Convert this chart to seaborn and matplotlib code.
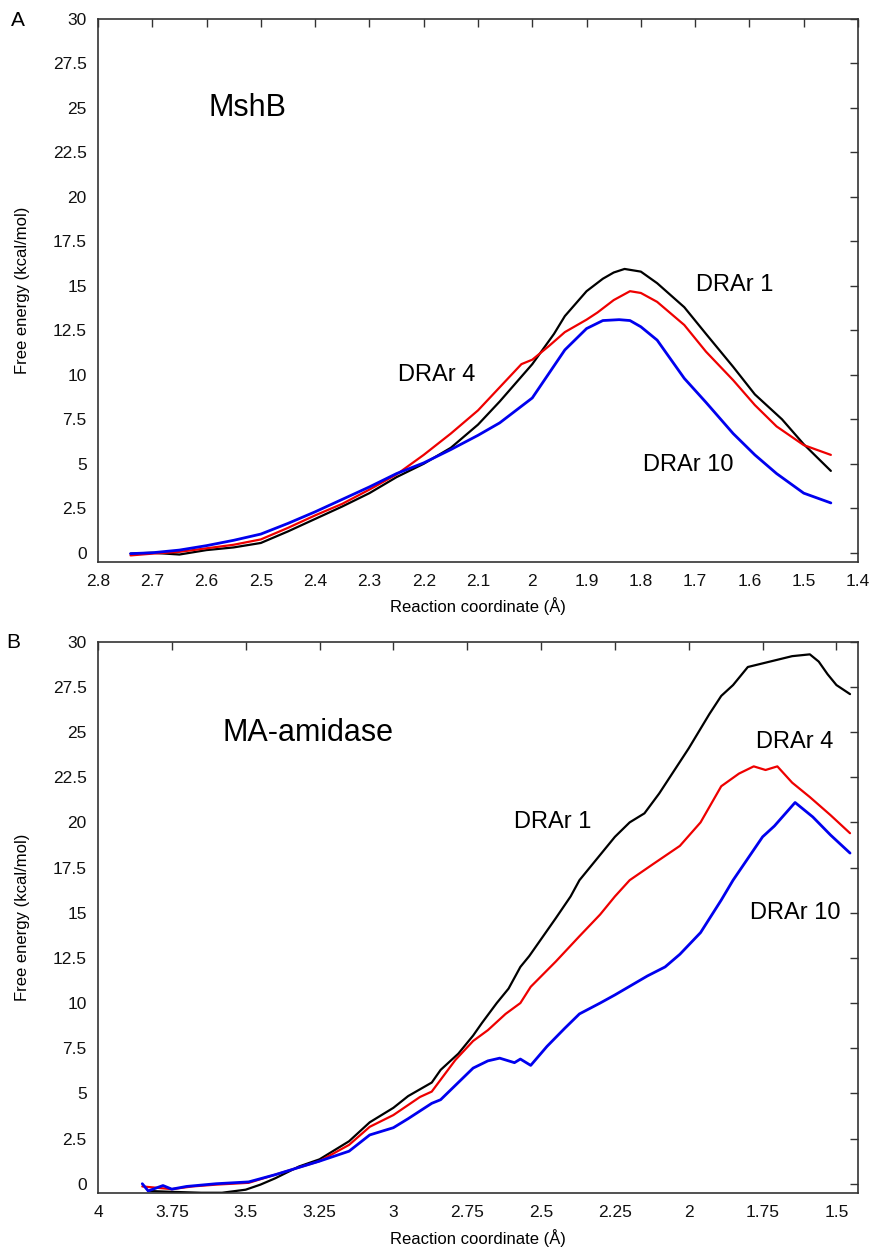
import numpy as np
import pandas as pd
import matplotlib
matplotlib.use("Agg")
import matplotlib.pyplot as plt
from matplotlib.ticker import FormatStrFormatter
import seaborn as sns

# ---- panel A: MshB ----
a_x_drar1 = [2.74, 2.70, 2.65, 2.60, 2.55, 2.50, 2.45, 2.40, 2.35, 2.30, 2.25, 2.20, 2.15,
             2.10, 2.06, 2.00, 1.96, 1.94, 1.90, 1.87, 1.85, 1.83, 1.80, 1.77, 1.72, 1.68,
             1.63, 1.59, 1.54, 1.50, 1.45]
a_y_drar1 = [-0.05, 0.0, -0.1, 0.15, 0.3, 0.55, 1.2, 1.9, 2.6, 3.35, 4.25, 5.0, 5.9,
             7.2, 8.5, 10.6, 12.3, 13.3, 14.7, 15.4, 15.75, 15.95, 15.8, 15.15, 13.8, 12.3,
             10.45, 8.9, 7.5, 6.1, 4.6]

a_x_drar4 = [2.74, 2.70, 2.65, 2.60, 2.55, 2.50, 2.45, 2.40, 2.35, 2.30, 2.25, 2.20, 2.15,
             2.10, 2.06, 2.02, 2.00, 1.97, 1.94, 1.90, 1.88, 1.85, 1.82, 1.80, 1.77, 1.72,
             1.68, 1.63, 1.59, 1.55, 1.50, 1.45]
a_y_drar4 = [-0.15, -0.05, 0.05, 0.25, 0.45, 0.75, 1.4, 2.1, 2.75, 3.55, 4.4, 5.5, 6.7,
             8.0, 9.3, 10.6, 10.85, 11.6, 12.4, 13.1, 13.5, 14.2, 14.7, 14.6, 14.1, 12.8,
             11.3, 9.7, 8.3, 7.1, 6.05, 5.5]

a_x_drar10 = [2.74, 2.70, 2.65, 2.60, 2.55, 2.50, 2.45, 2.40, 2.35, 2.30, 2.25, 2.20, 2.15,
              2.10, 2.06, 2.00, 1.94, 1.90, 1.87, 1.84, 1.82, 1.80, 1.77, 1.72, 1.68, 1.63,
              1.59, 1.55, 1.50, 1.45]
a_y_drar10 = [-0.05, 0.0, 0.15, 0.4, 0.7, 1.05, 1.65, 2.3, 3.0, 3.7, 4.45, 5.05, 5.8,
              6.6, 7.3, 8.7, 11.4, 12.6, 13.05, 13.1, 13.05, 12.7, 11.95, 9.8, 8.45, 6.7,
              5.5, 4.45, 3.35, 2.8]

# ---- panel B: MA-amidase ----
b_x_drar1 = [3.83, 3.75, 3.65, 3.58, 3.50, 3.45, 3.40, 3.32, 3.25, 3.15, 3.08, 3.00, 2.95,
             2.87, 2.84, 2.78, 2.73, 2.70, 2.65, 2.61, 2.57, 2.54, 2.45, 2.40, 2.37, 2.25,
             2.20, 2.15, 2.10, 2.00, 1.93, 1.89, 1.85, 1.80, 1.75, 1.70, 1.65, 1.59, 1.56,
             1.53, 1.50, 1.454]
b_y_drar1 = [-0.4, -0.45, -0.5, -0.5, -0.33, -0.05, 0.3, 0.95, 1.35, 2.35, 3.4, 4.2, 4.85,
             5.6, 6.3, 7.2, 8.2, 8.9, 10.0, 10.8, 12.0, 12.6, 14.7, 15.9, 16.8, 19.2,
             20.0, 20.5, 21.6, 24.1, 26.0, 27.0, 27.6, 28.6, 28.8, 29.0, 29.2, 29.3, 28.9,
             28.2, 27.6, 27.1]

b_x_drar4 = [3.85, 3.75, 3.68, 3.60, 3.49, 3.40, 3.32, 3.25, 3.15, 3.08, 3.00, 2.91, 2.87,
             2.79, 2.73, 2.68, 2.62, 2.57, 2.535, 2.45, 2.37, 2.30, 2.25, 2.20, 2.12, 2.03,
             1.96, 1.89, 1.83, 1.78, 1.74, 1.70, 1.65, 1.59, 1.52, 1.454]
b_y_drar4 = [-0.15, -0.3, -0.15, -0.05, 0.05, 0.5, 0.9, 1.25, 2.15, 3.15, 3.8, 4.8, 5.1,
             6.85, 7.9, 8.5, 9.4, 10.0, 10.9, 12.3, 13.7, 14.9, 15.9, 16.8, 17.7, 18.7,
             20.0, 22.0, 22.7, 23.1, 22.9, 23.1, 22.2, 21.4, 20.4, 19.4]

b_x_drar10 = [3.85, 3.83, 3.78, 3.75, 3.70, 3.60, 3.49, 3.40, 3.32, 3.25, 3.15, 3.08, 3.00,
              2.95, 2.87, 2.84, 2.73, 2.68, 2.64, 2.59, 2.57, 2.535, 2.48, 2.42, 2.37, 2.30,
              2.25, 2.14, 2.08, 2.03, 1.96, 1.89, 1.85, 1.80, 1.75, 1.71, 1.64, 1.58, 1.52,
              1.454]
b_y_drar10 = [0.0, -0.4, -0.1, -0.3, -0.15, 0.0, 0.1, 0.5, 0.9, 1.25, 1.8, 2.7, 3.1,
              3.6, 4.45, 4.65, 6.4, 6.8, 6.95, 6.7, 6.9, 6.55, 7.6, 8.6, 9.4, 10.0,
              10.45, 11.5, 12.0, 12.7, 13.9, 15.7, 16.8, 18.0, 19.2, 19.8, 21.1, 20.3, 19.3,
              18.3]

series_names = ["DRAr 1", "DRAr 4", "DRAr 10"]
colors = {"DRAr 1": "#000000", "DRAr 4": "#ee0000", "DRAr 10": "#0000ee"}
widths = {"DRAr 1": 1.6, "DRAr 4": 1.6, "DRAr 10": 2.0}

yticks = np.arange(0, 30.1, 2.5)
a_xticks = [2.8, 2.7, 2.6, 2.5, 2.4, 2.3, 2.2, 2.1, 2.0, 1.9, 1.8, 1.7, 1.6, 1.5, 1.4]
b_xticks = [4.0, 3.75, 3.5, 3.25, 3.0, 2.75, 2.5, 2.25, 2.0, 1.75, 1.5]

sns.set_style("white")
plt.rcParams["font.family"] = ["Liberation Sans", "DejaVu Sans"]
plt.rcParams["text.color"] = "black"
plt.rcParams["axes.labelcolor"] = "black"

fig = plt.figure(figsize=(8.74, 12.47), dpi=100)
axA = fig.add_axes([0.1121, 0.5496, 0.8696, 0.4352])
axB = fig.add_axes([0.1121, 0.0435, 0.8696, 0.4419])


def draw(ax, xs, ys, xlim, xticks):
    for name, x, y in zip(series_names, xs, ys):
        d = pd.DataFrame({"x": x, "y": y})
        sns.lineplot(data=d, x="x", y="y", ax=ax, color=colors[name],
                     linewidth=widths[name], estimator=None, sort=False, legend=False)
    ax.set_xlim(*xlim)
    ax.set_ylim(-0.5, 30)
    ax.set_xticks(xticks)
    ax.set_yticks(yticks)
    ax.xaxis.set_major_formatter(FormatStrFormatter("%g"))
    ax.yaxis.set_major_formatter(FormatStrFormatter("%g"))
    ax.tick_params(direction="in", length=6, width=1, color="#333333",
                   top=True, right=True, labelsize=12.5, labelcolor="#111111")
    ax.tick_params(axis="x", pad=9)
    ax.tick_params(axis="y", pad=8)
    for s in ax.spines.values():
        s.set_color("#333333")
        s.set_linewidth(1.2)
    ax.set_xlabel("Reaction coordinate (Å)", fontsize=12, labelpad=6)
    ax.set_ylabel("Free energy (kcal/mol)", fontsize=12)
    ax.yaxis.set_label_coords(-0.09, 0.5)


draw(axA, [a_x_drar1, a_x_drar4, a_x_drar10], [a_y_drar1, a_y_drar4, a_y_drar10],
     (2.8, 1.4), a_xticks)
draw(axB, [b_x_drar1, b_x_drar4, b_x_drar10], [b_y_drar1, b_y_drar4, b_y_drar10],
     (4.0, 1.427), b_xticks)

axA.text(2.524, 25.0, "MshB", fontsize=22, ha="center", va="center")
axA.text(1.627, 15.06, "DRAr 1", fontsize=17, ha="center", va="center")
axA.text(2.176, 10.0, "DRAr 4", fontsize=17, ha="center", va="center")
axA.text(1.713, 4.93, "DRAr 10", fontsize=17, ha="center", va="center")

axB.text(3.288, 24.94, "MA-amidase", fontsize=22, ha="center", va="center")
axB.text(2.46, 20.0, "DRAr 1", fontsize=17, ha="center", va="center")
axB.text(1.64, 24.45, "DRAr 4", fontsize=17, ha="center", va="center")
axB.text(1.64, 15.0, "DRAr 10", fontsize=17, ha="center", va="center")

fig.text(18 / 874, 1 - 20 / 1247, "A", fontsize=15, ha="center", va="center")
fig.text(13 / 874, 1 - 642 / 1247, "B", fontsize=15, ha="center", va="center")

fig.savefig("out.png", dpi=100, facecolor="white")
